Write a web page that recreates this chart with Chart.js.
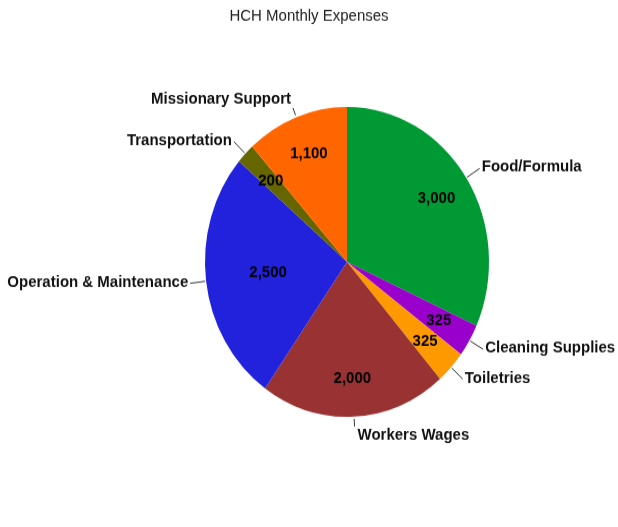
<!DOCTYPE html>
<html>
<head>
<meta charset="utf-8">
<title>HCH Monthly Expenses</title>
<script src="https://cdn.jsdelivr.net/npm/chart.js@4.4.1/dist/chart.umd.min.js"></script>
<style>
  html, body { margin: 0; padding: 0; background: #fff; overflow: hidden; }
  /* the source picture is a little taller than wide, so stretch it */
  #wrap { width: 618px; height: 483px; transform: scaleY(1.0911); transform-origin: 0 0; }
</style>
</head>
<body>
<div id="wrap"><canvas id="canvas" width="618" height="483"></canvas></div>
<script>
/* data */
var categorias = ['Food/Formula', 'Cleaning Supplies', 'Toiletries', 'Workers Wages',
                  'Operation & Maintenance', 'Transportation', 'Missionary Support'];
var gastos = [3000, 325, 325, 2000, 2500, 200, 1100];
var culori = ['#009933', '#9900cc', '#ff9900', '#993333', '#2222dd', '#666600', '#ff6600'];
var titlu = 'HCH Monthly Expenses';
var subtitlu = '$9450 USD';
// how far out the value sits inside each slice (fraction of radius)
var pozitieValoare = [0.75, 0.75, 0.75, 0.75, 0.56, 0.75, 0.75];

/* labels drawn by hand: title, values, leader lines */
var eticheteMele = {
  id: 'eticheteMele',
  afterDatasetsDraw: function(chart) {
    var ctx = chart.ctx;
    var meta = chart.getDatasetMeta(0);
    ctx.save();
    meta.data.forEach(function(arc, i) {
      var a = (arc.startAngle + arc.endAngle) / 2;
      var r = arc.outerRadius;
      var c = Math.cos(a), s = Math.sin(a);

      // value inside
      ctx.font = 'bold 15px "Liberation Sans", Arial, sans-serif';
      ctx.fillStyle = '#000';
      ctx.textAlign = 'center';
      ctx.textBaseline = 'middle';
      var k = pozitieValoare[i];
      ctx.fillText(gastos[i].toLocaleString('en-US'), arc.x + c * r * k, arc.y + s * r * k);

      // leader line (shorter near top / bottom)
      var vert = Math.abs(s) > 0.9;
      var l0 = vert ? 2 : 1, l1 = vert ? 9 : 16;
      var x1 = arc.x + c * (r + l0), y1 = arc.y + s * (r + l0);
      var x2 = arc.x + c * (r + l1), y2 = arc.y + s * (r + l1);
      ctx.strokeStyle = '#333';
      ctx.lineWidth = 1;
      ctx.beginPath();
      ctx.moveTo(x1, y1);
      ctx.lineTo(x2, y2);
      ctx.stroke();

      // category name outside
      ctx.fillStyle = '#111';
      var tx = x2, ty = y2;
      if (c >= 0) { ctx.textAlign = 'left'; tx += 2; }
      else { ctx.textAlign = 'right'; tx -= 2; }
      if (s < -0.9) { ctx.textBaseline = 'bottom'; ty -= 1; }
      else if (s > 0.9) { ctx.textBaseline = 'top'; ty += 1; tx += 1; }
      else { ctx.textBaseline = 'middle'; ty -= 1; }
      ctx.fillText(categorias[i], tx, ty);
    });
    ctx.restore();
  },
  afterDraw: function(chart) {
    var ctx = chart.ctx;
    ctx.save();
    ctx.font = '15px "Liberation Sans", Arial, sans-serif';
    ctx.fillStyle = '#222';
    ctx.textAlign = 'center';
    ctx.textBaseline = 'middle';
    ctx.fillText(titlu, chart.width / 2, 15);
    ctx.fillText(subtitlu, chart.width / 2, 474);
    ctx.restore();
  }
};

const ctx = document.getElementById('canvas');
new Chart(ctx, {
  type: 'pie',
  data: {
    labels: categorias,
    datasets: [{
      data: gastos,
      backgroundColor: culori,
      borderWidth: 0
    }]
  },
  options: {
    responsive: false,
    devicePixelRatio: 1,
    animation: false,
    layout: {
      padding: { left: 205, right: 129, top: 98, bottom: 101 }
    },
    plugins: {
      legend: { display: false },
      title: { display: false },
      tooltip: { enabled: false }
    }
  },
  plugins: [eticheteMele]
});
</script>
</body>
</html>
